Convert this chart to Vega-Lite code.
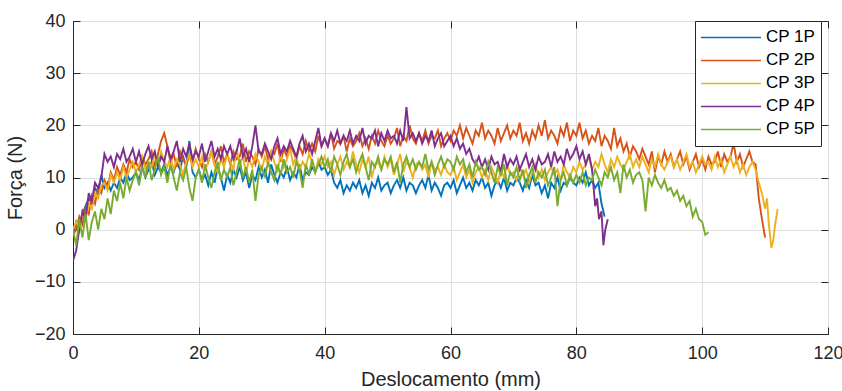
{
"$schema":"https://vega.github.io/schema/vega-lite/v6.json",
"width":755,"height":313,
"autosize":{"type":"none"},
"padding":{"left":73,"top":21,"right":14,"bottom":57},
"background":"white",
"config":{
"font":"Liberation Sans",
"view":{"stroke":"#262626","strokeWidth":1},
"axis":{"labelFont":"Liberation Sans","labelFontSize":18,"labelColor":"#262626","titleFont":"Liberation Sans","titleFontSize":20,"titleFontWeight":"normal","titleColor":"#262626","domainColor":"#262626","tickColor":"#262626","gridColor":"#dfdfdf","tickSize":-7,"tickWidth":1,"domainWidth":1}
},
"data":{"values":[
{"x":0,"1P":-1,"2P":-1,"3P":0,"4P":-6,"5P":0},
{"x":0.5,"1P":1.5,"2P":0,"3P":1.5,"4P":-4,"5P":-3},
{"x":1,"1P":0,"2P":2.5,"3P":0.5,"4P":0,"5P":2},
{"x":1.5,"1P":3,"2P":1,"3P":3,"4P":3.5,"5P":-1.5},
{"x":2,"1P":4.5,"2P":4,"3P":2,"4P":2,"5P":3},
{"x":2.5,"1P":6,"2P":3,"3P":5,"4P":7,"5P":-2},
{"x":3,"1P":5,"2P":6.5,"3P":4,"4P":5.5,"5P":1.5},
{"x":3.5,"1P":8,"2P":5,"3P":7,"4P":9,"5P":3.5},
{"x":4,"1P":7,"2P":8,"3P":6,"4P":8,"5P":0},
{"x":4.5,"1P":10.5,"2P":7,"3P":8.5,"4P":10,"5P":4},
{"x":5,"1P":8,"2P":9.5,"3P":9,"4P":14.5,"5P":2},
{"x":5.5,"1P":9,"2P":8,"3P":7.5,"4P":13,"5P":6},
{"x":6,"1P":7.5,"2P":11,"3P":10.5,"4P":14,"5P":3},
{"x":6.5,"1P":9,"2P":9.5,"3P":9,"4P":12,"5P":7.5},
{"x":7,"1P":8,"2P":12,"3P":11,"4P":14.5,"5P":5.5},
{"x":7.5,"1P":10,"2P":10.5,"3P":9.5,"4P":13.5,"5P":9},
{"x":8,"1P":9,"2P":12.5,"3P":12,"4P":15.5,"5P":6},
{"x":8.5,"1P":11,"2P":11,"3P":10,"4P":13,"5P":10},
{"x":9,"1P":9.5,"2P":13.5,"3P":11.5,"4P":14,"5P":7.5},
{"x":9.5,"1P":10,"2P":12,"3P":13,"4P":15.5,"5P":9.5},
{"x":10,"1P":11,"2P":13,"3P":11,"4P":13,"5P":11},
{"x":10.5,"1P":9.5,"2P":11.5,"3P":12.5,"4P":15,"5P":8.5},
{"x":11,"1P":12,"2P":14,"3P":14,"4P":12.5,"5P":12},
{"x":11.5,"1P":10,"2P":12.5,"3P":11.5,"4P":14.5,"5P":10},
{"x":12,"1P":11.5,"2P":13.5,"3P":13,"4P":16,"5P":13},
{"x":12.5,"1P":13,"2P":15,"3P":12,"4P":13.5,"5P":9.5},
{"x":13,"1P":10.5,"2P":12,"3P":14.5,"4P":15,"5P":11.5},
{"x":13.5,"1P":12,"2P":14.5,"3P":12.5,"4P":12,"5P":14},
{"x":14,"1P":11,"2P":17,"3P":15,"4P":14,"5P":10.5},
{"x":14.5,"1P":12.5,"2P":18.5,"3P":13,"4P":13,"5P":12},
{"x":15,"1P":10.5,"2P":16,"3P":12,"4P":16,"5P":9},
{"x":15.5,"1P":12,"2P":13,"3P":14,"4P":13.5,"5P":12.5},
{"x":16,"1P":11,"2P":14.5,"3P":11.5,"4P":15,"5P":10},
{"x":16.5,"1P":13,"2P":12,"3P":13.5,"4P":17,"5P":7.5},
{"x":17,"1P":11.5,"2P":15,"3P":12.5,"4P":13,"5P":11},
{"x":17.5,"1P":14,"2P":13.5,"3P":10.5,"4P":15.5,"5P":9.5},
{"x":18,"1P":12,"2P":12.5,"3P":13,"4P":14,"5P":12},
{"x":18.5,"1P":17,"2P":14,"3P":14.5,"4P":16.5,"5P":8},
{"x":19,"1P":11,"2P":13,"3P":12,"4P":13.5,"5P":5.5},
{"x":19.5,"1P":10,"2P":15.5,"3P":13.5,"4P":15,"5P":10},
{"x":20,"1P":11.5,"2P":13.5,"3P":12,"4P":14,"5P":11.5},
{"x":20.5,"1P":9.5,"2P":12,"3P":14,"4P":16.5,"5P":9},
{"x":21,"1P":10.5,"2P":14.5,"3P":11.5,"4P":13,"5P":12.5},
{"x":21.5,"1P":8.5,"2P":13,"3P":13,"4P":15,"5P":10},
{"x":22,"1P":11,"2P":15,"3P":15,"4P":17,"5P":8},
{"x":22.5,"1P":9,"2P":12.5,"3P":12.5,"4P":14,"5P":11},
{"x":23,"1P":12,"2P":14,"3P":11,"4P":15.5,"5P":13},
{"x":23.5,"1P":10,"2P":16,"3P":13.5,"4P":13.5,"5P":9.5},
{"x":24,"1P":7.5,"2P":13,"3P":12,"4P":16,"5P":11.5},
{"x":24.5,"1P":10.5,"2P":14.5,"3P":14.5,"4P":14.5,"5P":10},
{"x":25,"1P":9,"2P":12.5,"3P":13,"4P":16,"5P":12},
{"x":25.5,"1P":11.5,"2P":15,"3P":11.5,"4P":13.5,"5P":8.5},
{"x":26,"1P":10,"2P":13.5,"3P":15.5,"4P":15,"5P":11},
{"x":26.5,"1P":12,"2P":14,"3P":12.5,"4P":17.5,"5P":13.5},
{"x":27,"1P":9.5,"2P":16.5,"3P":14,"4P":14,"5P":10},
{"x":27.5,"1P":11,"2P":13,"3P":11,"4P":15.5,"5P":12},
{"x":28,"1P":8,"2P":15,"3P":13.5,"4P":13,"5P":9},
{"x":28.5,"1P":10.5,"2P":14,"3P":12,"4P":16,"5P":11.5},
{"x":29,"1P":9.5,"2P":12.5,"3P":14.5,"4P":20,"5P":5.5},
{"x":29.5,"1P":12,"2P":15.5,"3P":13,"4P":15,"5P":10.5},
{"x":30,"1P":10,"2P":14,"3P":11.5,"4P":14.5,"5P":12},
{"x":30.5,"1P":11.5,"2P":16,"3P":14,"4P":16.5,"5P":10},
{"x":31,"1P":9,"2P":13.5,"3P":12.5,"4P":15,"5P":13},
{"x":31.5,"1P":12.5,"2P":15,"3P":15,"4P":13.5,"5P":11},
{"x":32,"1P":10.5,"2P":14.5,"3P":13,"4P":16,"5P":9.5},
{"x":32.5,"1P":9,"2P":16.5,"3P":11,"4P":17.5,"5P":12.5},
{"x":33,"1P":11,"2P":13,"3P":14.5,"4P":14.5,"5P":10.5},
{"x":33.5,"1P":10,"2P":15.5,"3P":12,"4P":16,"5P":13.5},
{"x":34,"1P":12,"2P":14,"3P":13.5,"4P":15,"5P":11},
{"x":34.5,"1P":9.5,"2P":16,"3P":15.5,"4P":17,"5P":12},
{"x":35,"1P":11,"2P":15,"3P":12.5,"4P":15.5,"5P":10},
{"x":35.5,"1P":10,"2P":13.5,"3P":14,"4P":14,"5P":13},
{"x":36,"1P":12.5,"2P":16,"3P":11.5,"4P":16.5,"5P":11.5},
{"x":36.5,"1P":9.5,"2P":14.5,"3P":13,"4P":18,"5P":8},
{"x":37,"1P":11,"2P":17,"3P":12,"4P":15,"5P":12.5},
{"x":37.5,"1P":10.5,"2P":15,"3P":14.5,"4P":16.5,"5P":10.5},
{"x":38,"1P":12,"2P":16.5,"3P":13,"4P":14.5,"5P":13.5},
{"x":38.5,"1P":11,"2P":15,"3P":11,"4P":17,"5P":11},
{"x":39,"1P":13,"2P":18,"3P":13.5,"4P":19.5,"5P":12.5},
{"x":39.5,"1P":11.5,"2P":16,"3P":12.5,"4P":16,"5P":14},
{"x":40,"1P":12,"2P":17.5,"3P":14,"4P":17.5,"5P":12},
{"x":40.5,"1P":10.5,"2P":16,"3P":12,"4P":16,"5P":13.5},
{"x":41,"1P":11.5,"2P":18.5,"3P":13,"4P":18.5,"5P":11},
{"x":41.5,"1P":9,"2P":15.5,"3P":10.5,"4P":17,"5P":14},
{"x":42,"1P":8,"2P":17,"3P":12.5,"4P":19,"5P":12.5},
{"x":42.5,"1P":9.5,"2P":16.5,"3P":14,"4P":16.5,"5P":10.5},
{"x":43,"1P":7,"2P":18,"3P":11.5,"4P":18,"5P":13},
{"x":43.5,"1P":8.5,"2P":15,"3P":13,"4P":17,"5P":14.5},
{"x":44,"1P":7.5,"2P":17.5,"3P":12,"4P":19,"5P":12},
{"x":44.5,"1P":9,"2P":16,"3P":15,"4P":16.5,"5P":13.5},
{"x":45,"1P":8,"2P":17,"3P":12.5,"4P":18,"5P":11},
{"x":45.5,"1P":9.5,"2P":18.5,"3P":11,"4P":17,"5P":13},
{"x":46,"1P":7,"2P":16,"3P":13.5,"4P":19.5,"5P":14.5},
{"x":46.5,"1P":8.5,"2P":17.5,"3P":12,"4P":16.5,"5P":12},
{"x":47,"1P":6.5,"2P":15.5,"3P":14,"4P":18,"5P":9.5},
{"x":47.5,"1P":9,"2P":18,"3P":10,"4P":17.5,"5P":13},
{"x":48,"1P":8,"2P":16.5,"3P":12.5,"4P":19,"5P":12},
{"x":48.5,"1P":10,"2P":19,"3P":13,"4P":16,"5P":14},
{"x":49,"1P":7.5,"2P":17,"3P":11.5,"4P":18.5,"5P":11.5},
{"x":49.5,"1P":8.5,"2P":16,"3P":14,"4P":17,"5P":13.5},
{"x":50,"1P":9,"2P":18,"3P":12,"4P":19,"5P":12.5},
{"x":50.5,"1P":7,"2P":16.5,"3P":13.5,"4P":17.5,"5P":14},
{"x":51,"1P":8.5,"2P":17.5,"3P":10.5,"4P":18,"5P":11},
{"x":51.5,"1P":9.5,"2P":19.5,"3P":12.5,"4P":16.5,"5P":13},
{"x":52,"1P":8,"2P":16,"3P":14.5,"4P":19,"5P":9},
{"x":52.5,"1P":10,"2P":18,"3P":11,"4P":17,"5P":12.5},
{"x":53,"1P":7.5,"2P":17,"3P":13,"4P":23.5,"5P":14},
{"x":53.5,"1P":9,"2P":20,"3P":12,"4P":17.5,"5P":12},
{"x":54,"1P":8.5,"2P":17.5,"3P":10,"4P":18.5,"5P":13.5},
{"x":54.5,"1P":7,"2P":16.5,"3P":12.5,"4P":17,"5P":11.5},
{"x":55,"1P":8.5,"2P":18.5,"3P":13,"4P":18.5,"5P":13},
{"x":55.5,"1P":9.5,"2P":17,"3P":11.5,"4P":16.5,"5P":12},
{"x":56,"1P":8,"2P":19,"3P":12.5,"4P":18,"5P":14.5},
{"x":56.5,"1P":10.5,"2P":16.5,"3P":10,"4P":17,"5P":11.5},
{"x":57,"1P":7.5,"2P":18,"3P":13,"4P":19,"5P":13},
{"x":57.5,"1P":9,"2P":17.5,"3P":11.5,"4P":16,"5P":10.5},
{"x":58,"1P":8,"2P":19,"3P":12,"4P":17.5,"5P":12.5},
{"x":58.5,"1P":6.5,"2P":16,"3P":10.5,"4P":18.5,"5P":14},
{"x":59,"1P":8.5,"2P":17.5,"3P":12.5,"4P":16,"5P":12},
{"x":59.5,"1P":9,"2P":18.5,"3P":11,"4P":17,"5P":13.5},
{"x":60,"1P":8,"2P":17,"3P":10.5,"4P":18,"5P":13},
{"x":60.5,"1P":9.5,"2P":19,"3P":12,"4P":16,"5P":11.5},
{"x":61,"1P":7,"2P":18,"3P":9.5,"4P":17.5,"5P":14},
{"x":61.5,"1P":8.5,"2P":20,"3P":11,"4P":15.5,"5P":12.5},
{"x":62,"1P":10,"2P":17.5,"3P":12.5,"4P":16.5,"5P":13.5},
{"x":62.5,"1P":8,"2P":19.5,"3P":10,"4P":14.5,"5P":11},
{"x":63,"1P":9,"2P":18,"3P":11.5,"4P":15.5,"5P":12.5},
{"x":63.5,"1P":7.5,"2P":16.5,"3P":9,"4P":13.5,"5P":10},
{"x":64,"1P":9.5,"2P":19,"3P":11,"4P":12.5,"5P":13},
{"x":64.5,"1P":8.5,"2P":18,"3P":12,"4P":14,"5P":11.5},
{"x":65,"1P":10,"2P":20.5,"3P":10,"4P":12,"5P":12},
{"x":65.5,"1P":8,"2P":17.5,"3P":11.5,"4P":13.5,"5P":10.5},
{"x":66,"1P":9,"2P":19,"3P":9.5,"4P":11.5,"5P":13},
{"x":66.5,"1P":6.5,"2P":18,"3P":12,"4P":14,"5P":11},
{"x":67,"1P":8.5,"2P":16.5,"3P":10.5,"4P":12.5,"5P":9},
{"x":67.5,"1P":9.5,"2P":19.5,"3P":9,"4P":13,"5P":12},
{"x":68,"1P":8,"2P":17,"3P":11.5,"4P":11,"5P":10.5},
{"x":68.5,"1P":10,"2P":18.5,"3P":10,"4P":14.5,"5P":12.5},
{"x":69,"1P":7.5,"2P":20,"3P":12.5,"4P":12,"5P":8.5},
{"x":69.5,"1P":9,"2P":17.5,"3P":10.5,"4P":13.5,"5P":11},
{"x":70,"1P":8.5,"2P":19,"3P":11,"4P":12.5,"5P":10},
{"x":70.5,"1P":10,"2P":18,"3P":9.5,"4P":14,"5P":12},
{"x":71,"1P":9,"2P":20.5,"3P":12,"4P":11.5,"5P":9.5},
{"x":71.5,"1P":7.5,"2P":17,"3P":10.5,"4P":13,"5P":11.5},
{"x":72,"1P":9.5,"2P":18.5,"3P":11.5,"4P":14.5,"5P":8},
{"x":72.5,"1P":8,"2P":16.5,"3P":9,"4P":12,"5P":10.5},
{"x":73,"1P":10.5,"2P":19,"3P":11,"4P":13.5,"5P":12},
{"x":73.5,"1P":8.5,"2P":17.5,"3P":12.5,"4P":11.5,"5P":9},
{"x":74,"1P":9,"2P":20,"3P":10,"4P":14,"5P":11},
{"x":74.5,"1P":7,"2P":18,"3P":11.5,"4P":12.5,"5P":10},
{"x":75,"1P":8.5,"2P":21,"3P":9.5,"4P":13,"5P":11.5},
{"x":75.5,"1P":6,"2P":17.5,"3P":11,"4P":14.5,"5P":8.5},
{"x":76,"1P":9,"2P":19,"3P":12,"4P":12,"5P":10},
{"x":76.5,"1P":8,"2P":18,"3P":10.5,"4P":15,"5P":12},
{"x":77,"1P":10,"2P":16.5,"3P":11.5,"4P":13,"5P":4.5},
{"x":77.5,"1P":7.5,"2P":19.5,"3P":9.5,"4P":14,"5P":9.5},
{"x":78,"1P":9,"2P":18,"3P":12.5,"4P":12.5,"5P":11},
{"x":78.5,"1P":8.5,"2P":20.5,"3P":11,"4P":15.5,"5P":8.5},
{"x":79,"1P":10,"2P":17,"3P":10,"4P":13.5,"5P":10.5},
{"x":79.5,"1P":9,"2P":19,"3P":12,"4P":14.5,"5P":9},
{"x":80,"1P":8.5,"2P":18,"3P":11,"4P":16,"5P":10.5},
{"x":80.5,"1P":10,"2P":20.5,"3P":13,"4P":13.5,"5P":9},
{"x":81,"1P":9,"2P":17.5,"3P":11.5,"4P":15,"5P":11},
{"x":81.5,"1P":11,"2P":19,"3P":12.5,"4P":12.5,"5P":8.5},
{"x":82,"1P":8.5,"2P":16.5,"3P":14,"4P":14.5,"5P":10},
{"x":82.5,"1P":9.5,"2P":18,"3P":11.5,"4P":11.5,"5P":9.5},
{"x":83,"1P":8,"2P":17,"3P":13,"4P":4.5,"5P":11.5},
{"x":83.3,"4P":6},
{"x":83.5,"1P":9,"2P":19.5,"3P":12,"5P":10},
{"x":83.6,"4P":2},
{"x":84,"1P":5,"2P":16,"3P":14.5,"4P":3.5,"5P":8.5},
{"x":84.3,"4P":-3},
{"x":84.5,"1P":2.5,"2P":18,"3P":12.5,"5P":11},
{"x":84.6,"4P":0},
{"x":85,"2P":17,"3P":11,"4P":2,"5P":10},
{"x":85.5,"2P":15.5,"3P":13.5,"5P":12},
{"x":86,"2P":19.5,"3P":12,"5P":9.5},
{"x":86.5,"2P":16,"3P":14,"5P":11},
{"x":87,"2P":17.5,"3P":12.5,"5P":7},
{"x":87.5,"2P":15,"3P":11.5,"5P":12.5},
{"x":88,"2P":16.5,"3P":13,"5P":10},
{"x":88.5,"2P":14,"3P":14.5,"5P":11.5},
{"x":89,"2P":16,"3P":12,"5P":9},
{"x":89.5,"2P":15,"3P":13.5,"5P":10.5},
{"x":90,"2P":13.5,"3P":12,"5P":11},
{"x":90.5,"2P":15.5,"3P":14,"5P":9.5},
{"x":91,"2P":14,"3P":12.5,"5P":3.5},
{"x":91.5,"2P":12.5,"3P":11,"5P":10},
{"x":92,"2P":15,"3P":13.5,"5P":8.5},
{"x":92.5,"2P":11,"3P":12,"5P":10.5},
{"x":93,"2P":14,"3P":14.5,"5P":9},
{"x":93.5,"2P":12.5,"3P":12.5,"5P":8},
{"x":94,"2P":15,"3P":11.5,"5P":9.5},
{"x":94.5,"2P":13,"3P":13,"5P":7.5},
{"x":95,"2P":14.5,"3P":14,"5P":8},
{"x":95.5,"2P":12,"3P":12,"5P":6.5},
{"x":96,"2P":13.5,"3P":13.5,"5P":7.5},
{"x":96.5,"2P":15,"3P":11.5,"5P":5.5},
{"x":97,"2P":12.5,"3P":13,"5P":6.5},
{"x":97.5,"2P":14,"3P":14.5,"5P":4.5},
{"x":98,"2P":11.5,"3P":12,"5P":5.5},
{"x":98.5,"2P":13,"3P":13,"5P":2.5},
{"x":99,"2P":14.5,"3P":11,"5P":4},
{"x":99.5,"2P":12,"3P":12.5,"5P":2},
{"x":100,"2P":13.5,"3P":14,"5P":1.5},
{"x":100.5,"2P":11.5,"3P":12.5,"5P":-1},
{"x":101,"2P":14,"3P":13,"5P":-0.5},
{"x":101.5,"2P":12.5,"3P":11.5},
{"x":102,"2P":13,"3P":14},
{"x":102.5,"2P":15,"3P":12},
{"x":103,"2P":12,"3P":13.5},
{"x":103.5,"2P":14.5,"3P":11},
{"x":104,"2P":13,"3P":12.5},
{"x":104.5,"2P":14,"3P":14},
{"x":105,"2P":16.5,"3P":12},
{"x":105.5,"2P":13,"3P":13.5},
{"x":106,"2P":14.5,"3P":11},
{"x":106.5,"2P":12,"3P":12.5},
{"x":107,"2P":13.5,"3P":10.5},
{"x":107.5,"2P":15,"3P":12},
{"x":108,"2P":13,"3P":13},
{"x":108.5,"2P":12.5,"3P":11.5},
{"x":109,"2P":6,"3P":9},
{"x":109.5,"2P":2,"3P":7},
{"x":110,"2P":-1.5,"3P":4},
{"x":110.3,"3P":6},
{"x":110.6,"3P":1},
{"x":111,"3P":-3.5},
{"x":111.3,"3P":-2},
{"x":111.6,"3P":1},
{"x":112,"3P":4}
]},
"transform":[
{"fold":["1P","2P","3P","4P","5P"],"as":["serie","forca"]},
{"filter":"isValid(datum.forca)"}
],
"layer":[
{
"mark":{"type":"line","strokeWidth":1.9,"clip":true},
"encoding":{
"x":{"field":"x","type":"quantitative","scale":{"domain":[0,120],"nice":false,"zero":false},
"axis":{"orient":"bottom","values":[0,20,40,60,80,100,120],"title":"Deslocamento (mm)","grid":true,"labelPadding":17,"titlePadding":7,"labelFlush":false}},
"y":{"field":"forca","type":"quantitative","scale":{"domain":[-20,40],"nice":false,"zero":false},
"axis":{"orient":"left","values":[-20,-10,0,10,20,30,40],"title":"Força (N)","grid":true,"labelPadding":15,"titlePadding":9,"labelFlush":false}},
"color":{"field":"serie","type":"nominal",
"scale":{"domain":["1P","2P","3P","4P","5P"],"range":["#0072BD","#D95319","#EDB120","#7E2F8E","#77AC30"]},
"legend":{"orient":"none","legendX":622,"legendY":0,"title":null,"symbolType":"stroke","symbolSize":3600,"symbolStrokeWidth":1.5,"labelFontSize":17,"labelColor":"#000000","labelFont":"Liberation Sans","padding":5,"clipHeight":22.75,"rowPadding":0,"labelOffset":4,"strokeColor":"#262626","fillColor":"white","labelExpr":"'CP ' + datum.label"}}
}
},
{
"mark":{"type":"point","opacity":0},
"transform":[{"filter":"datum.x == 0"}],
"encoding":{
"x":{"field":"x","type":"quantitative","scale":{"domain":[0,120],"nice":false,"zero":false},
"axis":{"orient":"top","values":[0,20,40,60,80,100,120],"title":null,"labels":false,"grid":false,"domain":false}},
"y":{"field":"forca","type":"quantitative","scale":{"domain":[-20,40],"nice":false,"zero":false},
"axis":{"orient":"right","values":[-20,-10,0,10,20,30,40],"title":null,"labels":false,"grid":false,"domain":false}}
}
}
],
"resolve":{"axis":{"x":"independent","y":"independent"}}
}
